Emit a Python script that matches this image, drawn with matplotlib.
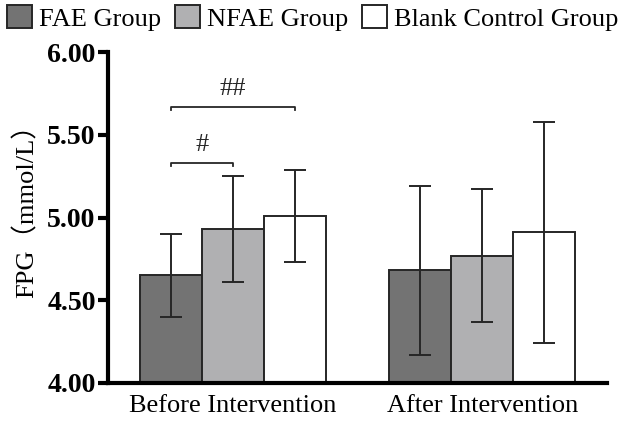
import numpy as np
import matplotlib
matplotlib.use("Agg")
import matplotlib.pyplot as plt
from matplotlib.patches import Patch

# data
phases = ["Before Intervention", "After Intervention"]
groups = ["FAE Group", "NFAE Group", "Blank Control Group"]
means = {
    "FAE Group": [4.65, 4.68],
    "NFAE Group": [4.93, 4.77],
    "Blank Control Group": [5.01, 4.91],
}
sds = {
    "FAE Group": [0.25, 0.51],
    "NFAE Group": [0.32, 0.40],
    "Blank Control Group": [0.28, 0.67],
}
colors = ["#737373", "#b0b0b2", "#ffffff"]
y_ticks = [4.00, 4.50, 5.00, 5.50, 6.00]
# significance marks in the before group: (group a, group b, height, label)
sig_marks = [(0, 1, 5.33, "#"), (0, 2, 5.67, "##")]

serif = ["Liberation Serif", "DejaVu Serif"]
plt.rcParams["font.family"] = serif

fig = plt.figure(figsize=(6.18, 4.24), dpi=100)
ax = fig.add_axes([0.175, 0.097, 0.807, 0.78])

x = np.arange(len(phases))
w = 0.248
for i, g in enumerate(groups):
    ax.bar(x + (i - 1) * w, np.array(means[g]) - 4.0, w, bottom=4.0,
           color=colors[i], edgecolor="#262626", linewidth=1.4, zorder=2)
    ax.errorbar(x + (i - 1) * w, means[g], yerr=sds[g], fmt="none",
                ecolor="#262626", elinewidth=1.4, capsize=8, capthick=1.4, zorder=3)

for a, b, h, lab in sig_marks:
    xa, xb = x[0] + (a - 1) * w, x[0] + (b - 1) * w
    ax.plot([xa, xa, xb, xb], [h - 0.02, h, h, h - 0.02], color="#262626", lw=1.3)
    ax.text((xa + xb) / 2, h + 0.04, lab, ha="center", va="bottom", fontsize=19,
            color="#262626")

ax.set_xlim(-0.5, 1.5)
ax.set_ylim(4.0, 6.0)
ax.set_yticks(y_ticks)
ax.set_yticklabels(["%.2f" % t for t in y_ticks], fontsize=20, fontweight="bold")
ax.set_xticks(x)
ax.set_xticklabels(phases, fontsize=19)
ax.tick_params(axis="x", length=0, pad=9)
ax.tick_params(axis="y", length=7, width=3, pad=2)
for s in ["top", "right"]:
    ax.spines[s].set_visible(False)
ax.spines["left"].set_linewidth(3)
ax.spines["bottom"].set_linewidth(3)

ax.set_ylabel("FPG（mmol/L）", fontsize=19, family=serif + ["Noto Sans CJK SC"])
ax.yaxis.set_label_coords(-0.14, 0.54)

handles = [Patch(facecolor=c, edgecolor="#262626", linewidth=1.4) for c in colors]
fig.legend(handles, groups, loc="upper left", bbox_to_anchor=(-0.006, 1.012), ncol=3,
           frameon=False, fontsize=19, handlelength=0.95, handleheight=0.95,
           handletextpad=0.28, columnspacing=0.5, borderaxespad=0.1, borderpad=0.3)

fig.savefig("out.png", dpi=100)
